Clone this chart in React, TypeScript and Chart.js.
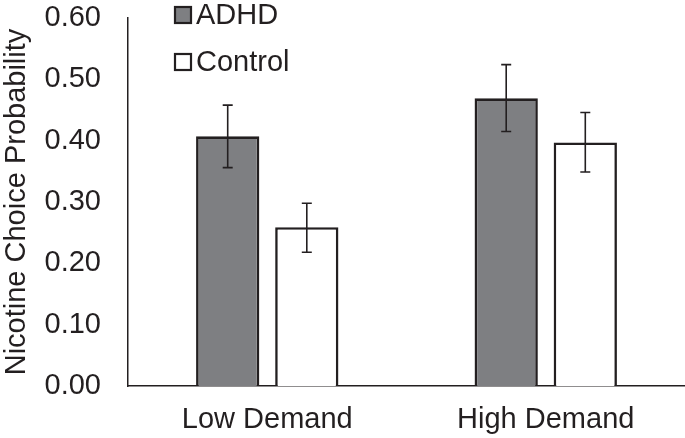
import React, { useEffect, useRef } from "react";
import { Chart, registerables } from "chart.js";

Chart.register(...registerables);

const categories = ["Low Demand", "High Demand"];
const seriesNames = ["ADHD", "Control"];
const adhdValues = [0.407, 0.469];
const controlValues = [0.259, 0.397];
const adhdErrLow = [0.356, 0.415];
const adhdErrHigh = [0.458, 0.524];
const controlErrLow = [0.218, 0.349];
const controlErrHigh = [0.298, 0.446];
const yTicks = [0, 0.1, 0.2, 0.3, 0.4, 0.5, 0.6];

const FONT = "'Liberation Sans', Arial, sans-serif";
const INK = "#231f20";
const GRAY = "#7e7f82";
const FS = 29;

const errorBarPlugin = {
  id: "errorBars",
  afterDatasetsDraw(chart: any) {
    const ctx = chart.ctx;
    const y = chart.scales.y;
    const lows = [adhdErrLow, controlErrLow];
    const highs = [adhdErrHigh, controlErrHigh];
    ctx.save();
    ctx.strokeStyle = INK;
    ctx.lineWidth = 1.6;
    chart.data.datasets.forEach((_: any, di: number) => {
      const meta = chart.getDatasetMeta(di);
      meta.data.forEach((bar: any, i: number) => {
        const x = bar.x;
        const yl = y.getPixelForValue(lows[di][i]);
        const yh = y.getPixelForValue(highs[di][i]);
        ctx.beginPath();
        ctx.moveTo(x, yl);
        ctx.lineTo(x, yh);
        ctx.moveTo(x - 5, yl);
        ctx.lineTo(x + 5, yl);
        ctx.moveTo(x - 5, yh);
        ctx.lineTo(x + 5, yh);
        ctx.stroke();
      });
    });
    ctx.restore();
  },
};

const legendPlugin = {
  id: "customLegend",
  afterDraw(chart: any) {
    const ctx = chart.ctx;
    const fills = [GRAY, "#ffffff"];
    const ys = [15, 62];
    ctx.save();
    ctx.font = `${FS}px ${FONT}`;
    ctx.textBaseline = "middle";
    ctx.textAlign = "left";
    seriesNames.forEach((name, i) => {
      const cy = ys[i];
      ctx.fillStyle = fills[i];
      ctx.fillRect(175, cy - 8, 16, 16);
      ctx.strokeStyle = INK;
      ctx.lineWidth = 2.2;
      ctx.strokeRect(175, cy - 8, 16, 16);
      ctx.fillStyle = INK;
      ctx.fillText(name, 196, cy + 1);
    });
    ctx.restore();
  },
};

export default function App() {
  const ref = useRef<HTMLCanvasElement | null>(null);
  useEffect(() => {
    document.body.style.margin = "0";
    const chart = new Chart(ref.current as HTMLCanvasElement, {
      type: "bar",
      data: {
        labels: categories,
        datasets: [
          {
            label: seriesNames[0],
            data: adhdValues,
            backgroundColor: GRAY,
            borderColor: INK,
            borderWidth: 2.6,
            categoryPercentage: 0.568,
            barPercentage: 0.8,
          },
          {
            label: seriesNames[1],
            data: controlValues,
            backgroundColor: "#ffffff",
            borderColor: INK,
            borderWidth: 2.6,
            categoryPercentage: 0.568,
            barPercentage: 0.8,
          },
        ],
      },
      options: {
        animation: false,
        responsive: false,
        layout: { padding: { top: 0, right: 0, left: 0, bottom: 0 } },
        plugins: { legend: { display: false }, tooltip: { enabled: false } },
        scales: {
          x: {
            grid: { display: false, drawTicks: false },
            border: { display: true, color: INK, width: 1.5 },
            ticks: {
              color: INK,
              font: { family: FONT, size: FS },
              padding: 17,
            },
            afterFit(scale: any) {
              scale.height = 52;
            },
          },
          y: {
            min: 0,
            max: 0.6,
            afterBuildTicks(scale: any) {
              scale.ticks = yTicks.map((v) => ({ value: v }));
            },
            grid: { display: false, drawTicks: false },
            border: { display: true, color: INK, width: 1.5 },
            ticks: {
              color: INK,
              font: { family: FONT, size: FS },
              padding: 27,
              callback: (v: any) => Number(v).toFixed(2),
            },
            title: {
              display: true,
              text: "Nicotine Choice Probability",
              color: INK,
              font: { family: FONT, size: FS },
              padding: 0,
            },
            afterFit(scale: any) {
              scale.width = 128;
              scale.paddingTop = 18;
              scale.paddingBottom = 0;
            },
          },
        },
      },
      plugins: [errorBarPlugin, legendPlugin],
    });
    return () => chart.destroy();
  }, []);
  return (
    <div style={{ width: 685, height: 438 }}>
      <canvas ref={ref} width={685} height={438} style={{ display: "block" }} />
    </div>
  );
}
